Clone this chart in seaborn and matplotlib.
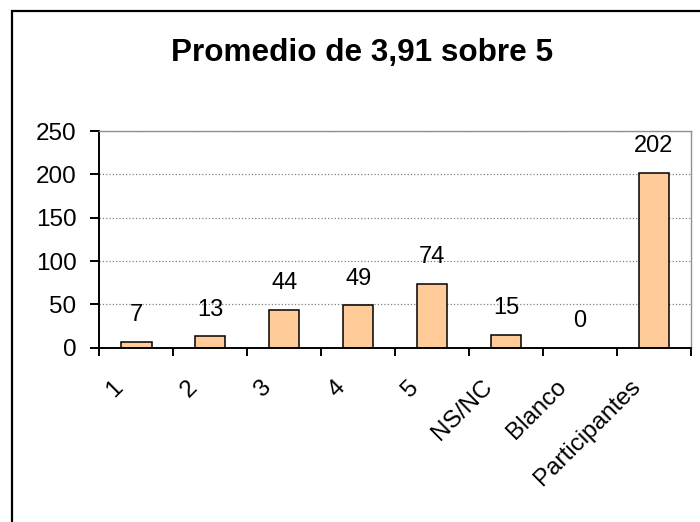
import matplotlib
matplotlib.use("Agg")
import matplotlib.pyplot as plt
import matplotlib.transforms as mtransforms
from matplotlib.patches import Rectangle
import seaborn as sns
import pandas as pd

# chart data
categories = ["1", "2", "3", "4", "5", "NS/NC", "Blanco", "Participantes"]
counts = [7, 13, 44, 49, 74, 15, 0, 202]
title = "Promedio de 3,91 sobre 5"
y_ticks = [0, 50, 100, 150, 200, 250]

sns.set_style("white")
plt.rcParams["font.family"] = ["Liberation Sans", "DejaVu Sans"]
plt.rcParams["text.color"] = "black"
plt.rcParams["xtick.color"] = "black"
plt.rcParams["ytick.color"] = "black"
plt.rcParams["xtick.labelcolor"] = "black"
plt.rcParams["ytick.labelcolor"] = "black"

df = pd.DataFrame({"cat": categories, "n": counts})

fig = plt.figure(figsize=(7, 5.22), dpi=100)
ax = fig.add_axes([0.142, 0.334, 0.845, 0.415])

sns.barplot(data=df, x="cat", y="n", color="#FFCC99", edgecolor="black",
            linewidth=1.1, width=0.41, saturation=1, ax=ax)

# value labels above the bars
ax.bar_label(ax.containers[0], labels=[str(v) for v in counts],
             padding=11, fontsize=17, color="black")

ax.set_xlim(-0.5, len(categories) - 0.5)
ax.set_ylim(0, 250)
ax.set_yticks(y_ticks)
ax.set_xlabel("")
ax.set_ylabel("")

# dotted gridlines, excel style
ax.yaxis.grid(True, linestyle=":", color="#808080", linewidth=0.9)
ax.set_axisbelow(True)

for side in ["top", "right"]:
    ax.spines[side].set_visible(True)
    ax.spines[side].set_color("#909090")
    ax.spines[side].set_linewidth(1.0)
for side in ["left", "bottom"]:
    ax.spines[side].set_color("black")
    ax.spines[side].set_linewidth(1.4)

# ticks at category boundaries, labels at centres
ax.set_xticks([i - 0.5 for i in range(len(categories) + 1)], minor=True)
ax.tick_params(axis="x", which="minor", length=6, width=1.4, direction="out",
               bottom=True, color="black")
ax.tick_params(axis="x", which="major", length=0, pad=26, labelsize=17.5)
ax.tick_params(axis="y", length=6.5, width=1.4, direction="out", left=True,
               pad=10, labelsize=17.5, color="black")

offset = mtransforms.ScaledTranslation(-12 / 72, 0, fig.dpi_scale_trans)
for lab in ax.get_xticklabels():
    lab.set_rotation(45)
    lab.set_ha("right")
    lab.set_va("center")
    lab.set_rotation_mode("anchor")
    lab.set_transform(lab.get_transform() + offset)

fig.text(0.517, 0.898, title, ha="center", va="center", fontsize=22.7,
         fontweight="bold", color="black")

# outer chart frame (only left and top edges fall inside the picture)
fig.patches.append(Rectangle((12 / 700, -0.1), 1.2, 1.1 - 11 / 522,
                             transform=fig.transFigure, fill=False,
                             edgecolor="black", linewidth=1.6))

fig.savefig("out.png", dpi=100)
